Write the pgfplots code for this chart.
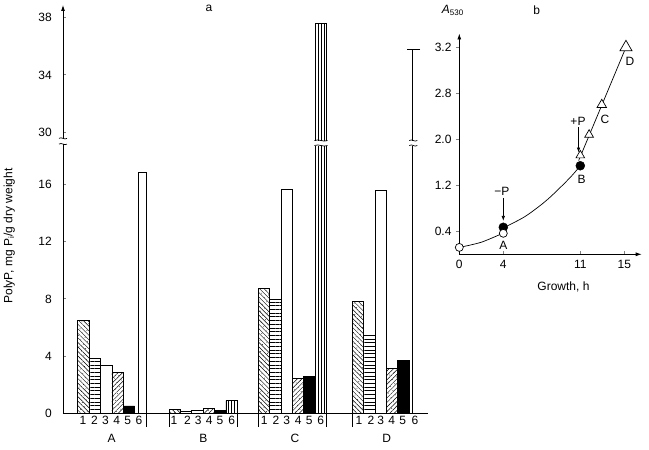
\documentclass[border=0pt]{standalone}
\usepackage{fontspec}
\setmainfont{Liberation Sans}
\usepackage{pgfplots}
\pgfplotsset{compat=1.18}
\usetikzlibrary{patterns.meta,arrows.meta}

\tikzset{
  pNW/.style={pattern={Lines[angle=-45,distance=3.2pt,line width=0.45pt]}},
  pNE/.style={pattern={Lines[angle=45,distance=3.2pt,line width=0.45pt]}},
  pH/.style={pattern={Lines[angle=0,distance=3.7pt,line width=0.7pt]}},
  pV/.style={pattern={Lines[angle=90,distance=3pt,line width=0.5pt]}},
  pDots/.style={postaction={pattern={Dots[radius=0.45pt,distance=5pt,angle=30]}}},
  brk/.style={line width=0.7pt},
}
\pgfplotsset{
  mybar/.style={ybar, bar width=11.35, bar shift=0pt, draw=black, line width=0.7pt},
}

\begin{document}
\begin{tikzpicture}[font=\fontsize{12}{14}\selectfont]
\useasboundingbox (0,0) rectangle (649pt,450pt);

% ---------------- panel a ----------------
\begin{axis}[
  at={(63pt,37pt)}, anchor=south west,
  scale only axis, width=365pt, height=408pt,
  xmin=63, xmax=428, ymin=0, ymax=28.6,
  axis lines=left, clip=false,
  axis line style={line width=0.8pt},
  x axis line style={-},
  y axis line style={-{Latex[length=6pt,width=4pt]}},
  y filter/.expression={y>25 ? y-10.3 : y},
  xtick={83,94.5,105.5,116.7,127.7,139, 174,187.5,198.3,209.3,220,231.7, 264.3,276,286.7,298.3,309.3,320.7, 359,371,380.7,391.7,402.7,415},
  xticklabels={1,2,3,4,5,6,1,2,3,4,5,6,1,2,3,4,5,6,1,2,3,4,5,6},
  xtick style={draw=none},
  xticklabel style={anchor=base, inner sep=0pt, yshift=-11.3pt},
  ytick={0,4,8,12,16,19.7,23.7,27.7},
  yticklabels={0,4,8,12,16,30,34,38},
  ytick style={line width=0.8pt},
  tick align=inside, major tick length=3.5pt,
  yticklabel style={anchor=east, inner sep=0pt, xshift=-11pt},
]
% series 1
\addplot[mybar, pNW, pDots] coordinates {(83.4,6.5) (174.7,0.26) (264.0,8.75) (358.0,7.85)};
% series 2
\addplot[mybar, pH] coordinates {(94.8,3.85) (186.1,0.14) (275.3,7.95) (369.3,5.45)};
% series 3
\addplot[mybar, fill=white] coordinates {(106.2,3.35) (197.4,0.16) (286.7,15.7) (380.7,15.6)};
% series 4
\addplot[mybar, pNE, pDots] coordinates {(117.6,2.85) (208.8,0.33) (298.0,2.4) (392.0,3.15)};
% series 5
\addplot[mybar, fill=black] coordinates {(129.0,0.5) (220.2,0.21) (309.4,2.55) (403.4,3.7)};
% series 6
\addplot[mybar, bar width=8, fill=white] coordinates {(142.3,16.9)};
\addplot[mybar, pV] coordinates {(231.6,0.86) (320.7,37.6)};
\addplot[ycomb, draw=black, line width=0.8pt, mark=none] coordinates {(412.3,35.8)};
\addplot[only marks, mark=-, mark size=6.5pt, mark options={line width=0.8pt}] coordinates {(413.6,35.8)};

% axis breaks
\fill[white] ([xshift=-3pt]axis cs:63,18.85) rectangle ([xshift=3pt]axis cs:63,19.25);
\draw[brk] ([xshift=-4pt]axis cs:63,19.25) .. controls +(2.5pt,2pt) and +(-2.5pt,-2pt) .. ([xshift=4pt]axis cs:63,19.25);
\draw[brk] ([xshift=-4pt]axis cs:63,18.85) .. controls +(2.5pt,2pt) and +(-2.5pt,-2pt) .. ([xshift=4pt]axis cs:63,18.85);
\fill[white] (axis cs:314.2,18.75) rectangle (axis cs:327.5,19.1);
\draw[brk] (axis cs:314.5,19.1) .. controls +(4pt,2pt) and +(-4pt,-2pt) .. (axis cs:327.5,19.1);
\draw[brk] (axis cs:314.5,18.75) .. controls +(4pt,2pt) and +(-4pt,-2pt) .. (axis cs:327.5,18.75);
\fill[white] ([xshift=-2pt]axis cs:412.3,18.75) rectangle ([xshift=2pt]axis cs:412.3,19.1);
\draw[brk] ([xshift=-3pt]axis cs:412.3,19.1) .. controls +(3pt,2pt) and +(-3pt,-2pt) .. ([xshift=5pt]axis cs:412.3,19.1);
\draw[brk] ([xshift=-3pt]axis cs:412.3,18.75) .. controls +(3pt,2pt) and +(-3pt,-2pt) .. ([xshift=5pt]axis cs:412.3,18.75);

% group separators
\draw[line width=0.7pt] (axis cs:146.3,0) -- ([yshift=-14pt]axis cs:146.3,0);
\draw[line width=0.7pt] (axis cs:169,0) -- ([yshift=-14pt]axis cs:169,0);
\draw[line width=0.7pt] (axis cs:237.3,0) -- ([yshift=-14pt]axis cs:237.3,0);
\draw[line width=0.7pt] (axis cs:258.3,0) -- ([yshift=-14pt]axis cs:258.3,0);
\draw[line width=0.7pt] (axis cs:326.3,0) -- ([yshift=-14pt]axis cs:326.3,0);
\draw[line width=0.7pt] (axis cs:352.3,0) -- ([yshift=-14pt]axis cs:352.3,0);
% group labels
\node at ([yshift=-25.5pt]axis cs:111.7,0) {A};
\node at ([yshift=-25.5pt]axis cs:203.3,0) {B};
\node at ([yshift=-25.5pt]axis cs:295,0) {C};
\node at ([yshift=-25.5pt]axis cs:386.7,0) {D};
\end{axis}

% ---------------- panel b ----------------
\begin{axis}[
  at={(459.3pt,195.7pt)}, anchor=south west,
  scale only axis, width=182.4pt, height=220.8pt,
  xmin=0, xmax=16.58, ymin=0, ymax=3.84,
  axis lines=left, clip=false,
  axis line style={line width=0.8pt, -{Latex[length=6pt,width=4pt]}},
  xtick={0,4,11,15}, xticklabels={0,4,11,15},
  xtick style={line width=0.8pt},
  xticklabel style={anchor=base, inner sep=0pt, yshift=-14.3pt},
  ytick={0.4,1.2,2.0,2.8,3.6}, yticklabels={0.4,1.2,2.0,2.8,3.2},
  tick align=inside, major tick length=3.5pt,
  ytick style={line width=0.8pt, xshift=-3.5pt},
  yticklabel style={anchor=east, inner sep=0pt, xshift=-7.6pt},
]
\addplot[line width=0.7pt, smooth] coordinates {(0,0.12) (2,0.21) (4,0.37)};
\addplot[line width=0.7pt, smooth] coordinates {(4,0.46) (6,0.66) (8,0.95) (10,1.32) (11,1.54)};
\addplot[line width=0.7pt] coordinates {(10.85,1.63) (15.15,3.6)};
\addplot[only marks, mark=triangle*, mark size=5pt, mark options={fill=white, draw=black, line width=0.7pt}] coordinates {(11,1.72) (11.8,2.08)};
\addplot[only marks, mark=triangle*, mark size=5.5pt, mark options={fill=white, draw=black, line width=0.7pt}] coordinates {(12.95,2.6)};
\addplot[only marks, mark=triangle*, mark size=7pt, mark options={fill=white, draw=black, line width=0.7pt}] coordinates {(15.15,3.6)};
\addplot[only marks, mark=*, mark size=4.5pt, mark options={fill=black, draw=black}] coordinates {(4,0.47) (11,1.54)};
\addplot[only marks, mark=*, mark size=4pt, mark options={fill=white, draw=black, line width=0.7pt}] coordinates {(0,0.12) (4,0.365)};

\draw[line width=0.7pt, -{Latex[length=5pt,width=3.5pt]}] (axis cs:4,0.98) -- (axis cs:4,0.58);
\draw[line width=0.7pt, -{Latex[length=5pt,width=3.5pt]}] (axis cs:10.84,2.21) -- (axis cs:10.84,1.77);
\node at (axis cs:3.88,1.09) {−P};
\node at (axis cs:10.79,2.32) {+P};
\node at (axis cs:4.0,0.15) {A};
\node at (axis cs:11.13,1.30) {B};
\node at (axis cs:13.25,2.34) {C};
\node at (axis cs:15.52,3.35) {D};
\end{axis}

% titles and labels
\node at (209pt,441.7pt) {a};
\node at (536.7pt,440pt) {b};
\node[anchor=base west, inner sep=0pt] at (441.7pt,436.5pt) {\textit{A}\textsubscript{530}};
\node at (563.5pt,163.3pt) {Growth,\ h};
\node[rotate=90] at (9.3pt,214pt) {PolyP, mg P\textsubscript{i}/g dry weight};
\end{tikzpicture}
\end{document}
